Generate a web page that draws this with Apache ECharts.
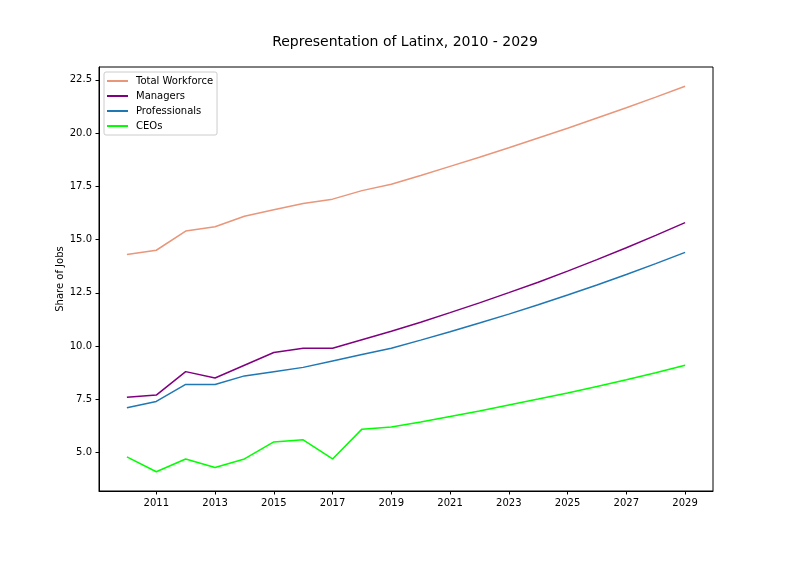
<!DOCTYPE html>
<html>
<head>
<meta charset="utf-8">
<script src="https://cdn.jsdelivr.net/npm/echarts@6/dist/echarts.min.js"></script>
<style>
  html, body { margin: 0; padding: 0; background: #fff; }
  #chart { width: 792px; height: 561px; }
</style>
</head>
<body>
<div id="chart"></div>
<script>
// 数据：2010 - 2029 拉丁裔占比
const years = [2010, 2011, 2012, 2013, 2014, 2015, 2016, 2017, 2018, 2019,
  2020, 2021, 2022, 2023, 2024, 2025, 2026, 2027, 2028, 2029];
const totalWorkforce = [14.3, 14.5, 15.4, 15.6, 16.1, 16.4, 16.7, 16.9, 17.3, 17.6,
  18.01, 18.44, 18.87, 19.31, 19.77, 20.23, 20.71, 21.19, 21.69, 22.2];
const managers = [7.6, 7.7, 8.8, 8.5, 9.1, 9.7, 9.9, 9.9, 10.3, 10.7,
  11.12, 11.57, 12.03, 12.51, 13.0, 13.52, 14.06, 14.62, 15.2, 15.8];
const professionals = [7.1, 7.4, 8.2, 8.2, 8.6, 8.8, 9.0, 9.3, 9.6, 9.9,
  10.28, 10.67, 11.08, 11.5, 11.94, 12.4, 12.87, 13.36, 13.87, 14.4];
const ceos = [4.8, 4.1, 4.7, 4.3, 4.7, 5.5, 5.6, 4.7, 6.1, 6.2,
  6.44, 6.69, 6.95, 7.23, 7.51, 7.8, 8.1, 8.42, 8.75, 9.1];
const xTicks = [2011, 2013, 2015, 2017, 2019, 2021, 2023, 2025, 2027, 2029];
const yTicks = [5, 7.5, 10, 12.5, 15, 17.5, 20, 22.5];

const FONT = 'DejaVu Sans';
const chart = echarts.init(document.getElementById('chart'), null, { renderer: 'canvas' });

function mkSeries(name, values, color) {
  return {
    name,
    type: 'line',
    data: years.map((y, i) => [y, values[i]]),
    showSymbol: false,
    symbol: 'none',
    lineStyle: { color, width: 1.5 },
    itemStyle: { color },
    animation: false,
  };
}

const axisCommon = {
  axisLine: { show: true, onZero: false, lineStyle: { color: '#000', width: 1 } },
  axisTick: { show: true, inside: false, length: 3.5, lineStyle: { color: '#000', width: 1 } },
  splitLine: { show: false },
};

chart.setOption({
  backgroundColor: '#fff',
  animation: false,
  textStyle: { fontFamily: FONT },
  title: {
    text: 'Representation of Latinx, 2010 - 2029',
    left: 400,
    top: 30,
    textAlign: 'center',
    textStyle: { fontFamily: FONT, fontSize: 14, fontWeight: 'normal', color: '#000' },
  },
  legend: {
    orient: 'vertical',
    left: 104,
    top: 72,
    padding: [3, 4, 3, 3],
    itemGap: 3,
    itemWidth: 21,
    itemHeight: 2,
    icon: 'rect',
    borderColor: '#ccc',
    borderWidth: 1,
    borderRadius: 2,
    backgroundColor: 'rgba(255,255,255,0.8)',
    textStyle: { fontFamily: FONT, fontSize: 10, color: '#000', lineHeight: 12, padding: [0, 0, 0, 3] },
    data: ['Total Workforce', 'Managers', 'Professionals', 'CEOs'],
  },
  grid: { left: 99, top: 67, width: 614, height: 424, containLabel: false },
  xAxis: Object.assign({}, axisCommon, {
    type: 'value',
    min: 2009.05,
    max: 2029.95,
    axisTick: Object.assign({}, axisCommon.axisTick, { customValues: xTicks }),
    axisLabel: {
      customValues: xTicks, margin: 7, fontFamily: FONT, fontSize: 10, color: '#000',
      formatter: v => String(Math.round(v)),
    },
  }),
  yAxis: Object.assign({}, axisCommon, {
    type: 'value',
    min: 3.195,
    max: 23.105,
    name: 'Share of Jobs',
    nameLocation: 'middle',
    nameGap: 34,
    nameMoveOverlap: false,
    nameTextStyle: { fontFamily: FONT, fontSize: 10, color: '#000' },
    axisTick: Object.assign({}, axisCommon.axisTick, { customValues: yTicks }),
    axisLabel: {
      customValues: yTicks, margin: 7, fontFamily: FONT, fontSize: 10, color: '#000',
      formatter: v => v.toFixed(1),
    },
  }),
  series: [
    mkSeries('Total Workforce', totalWorkforce, '#E9967A'),
    mkSeries('Managers', managers, '#800080'),
    mkSeries('Professionals', professionals, '#1F77B4'),
    mkSeries('CEOs', ceos, '#00FF00'),
  ],
});

// 四边黑框，与参考图一致
chart.setOption({
  graphic: [{
    type: 'rect',
    shape: { x: 99, y: 67, width: 614, height: 424 },
    style: { fill: 'none', stroke: '#000', lineWidth: 1 },
    z: 100,
    silent: true,
  }],
});
</script>
</body>
</html>
